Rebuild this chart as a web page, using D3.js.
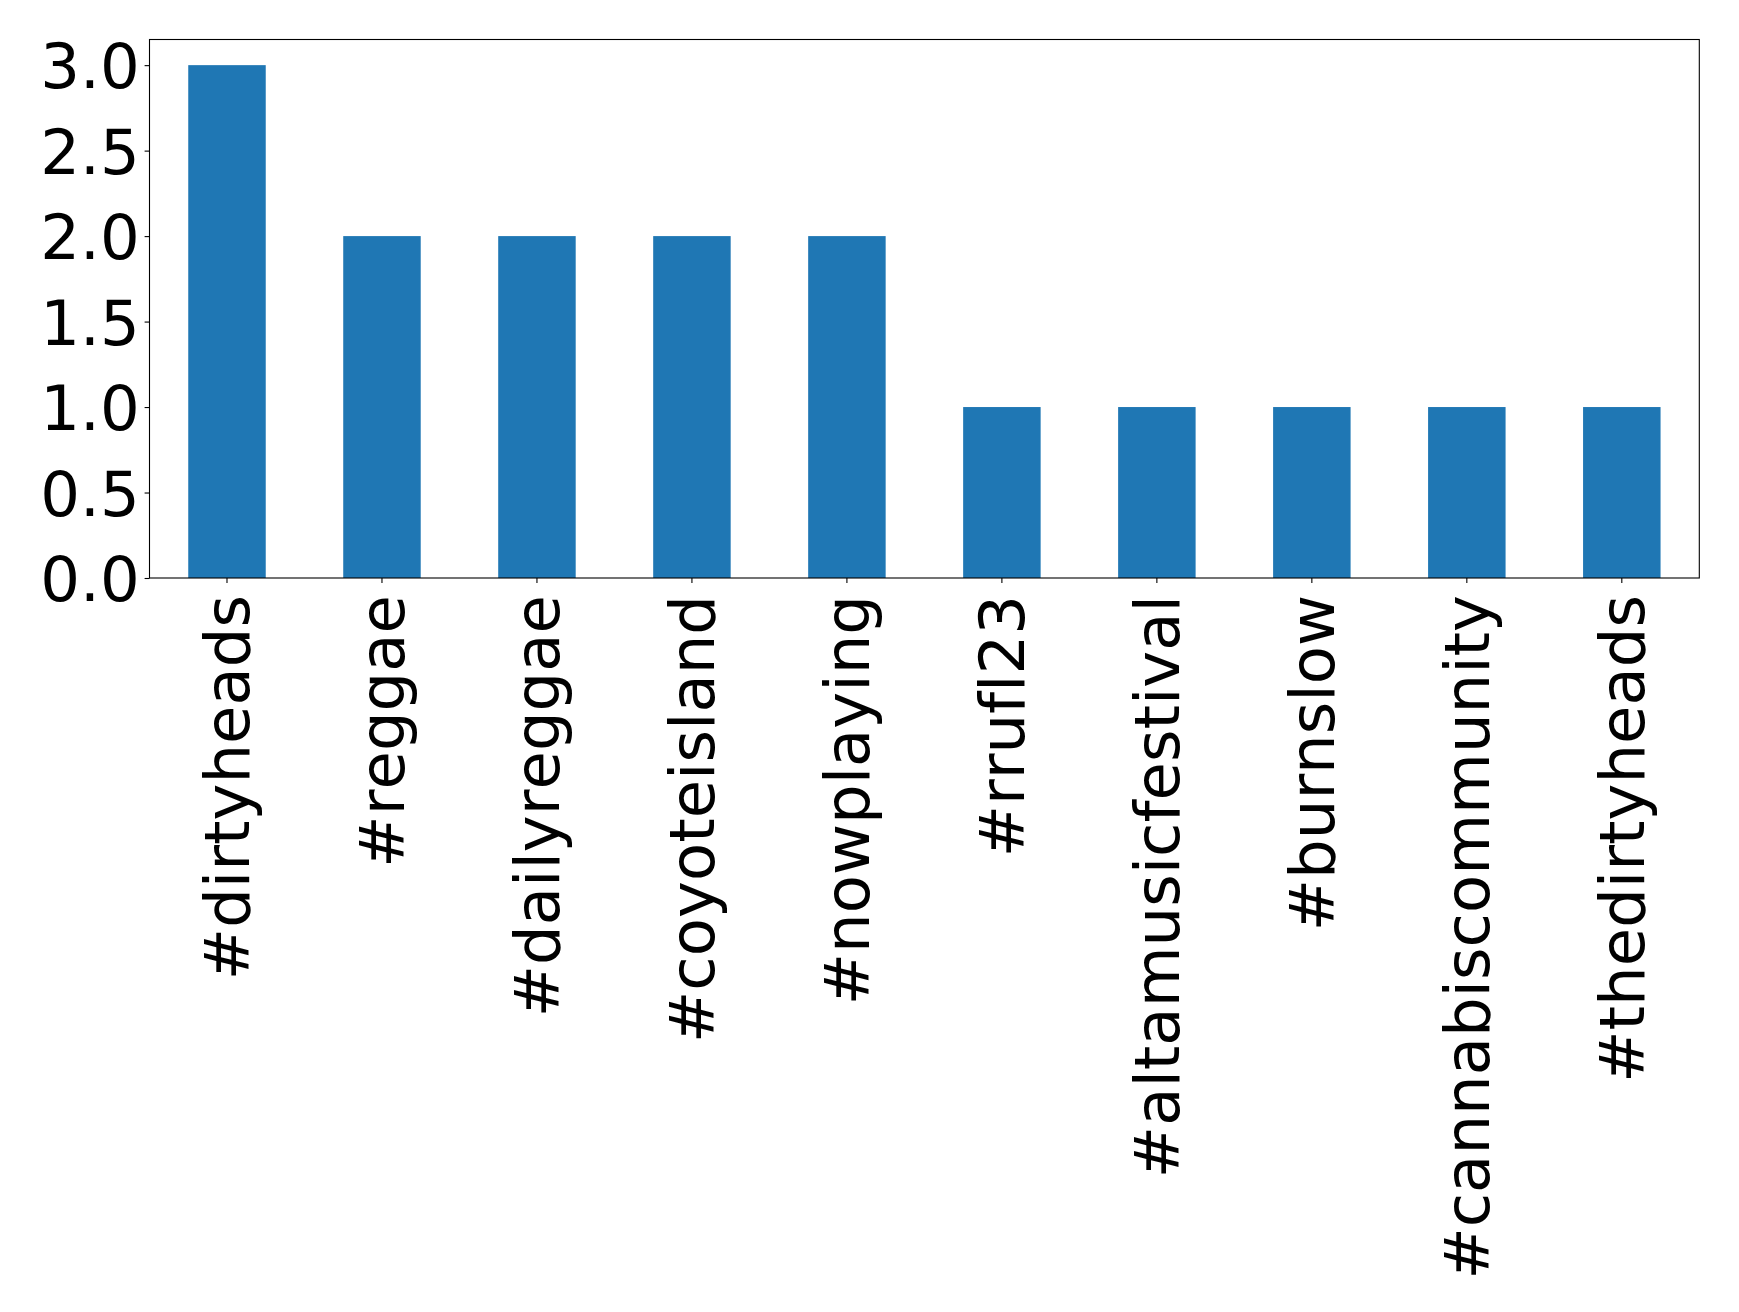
<!DOCTYPE html>
<html>
<head>
<meta charset="utf-8">
<script src="https://cdn.jsdelivr.net/npm/d3@7"></script>
<style>
  html, body { margin: 0; padding: 0; background: #fff; }
  svg { display: block; }
  text { font-variant-ligatures: none; font-kerning: none; }
</style>
</head>
<body>
<svg id="chart" width="1739" height="1312"></svg>
<script>
const categories = ["#dirtyheads", "#reggae", "#dailyreggae", "#coyoteisland", "#nowplaying",
  "#rrufl23", "#altamusicfestival", "#burnslow", "#cannabiscommunity", "#thedirtyheads"];
const counts = [3, 2, 2, 2, 2, 1, 1, 1, 1, 1];
const yTicks = [0, 0.5, 1.0, 1.5, 2.0, 2.5, 3.0];

const W = 1739, H = 1312;
const margin = { left: 149.5, top: 39.5, right: W - 1699.3, bottom: H - 578 };
const fontSize = 62.5;
const font = "'DejaVu Sans', sans-serif";

const svg = d3.select("#chart");
const g = svg.append("g");

const x = d3.scaleBand()
  .domain(categories)
  .range([margin.left, W - margin.right])
  .paddingInner(0.5)
  .paddingOuter(0.25);

const y = d3.scaleLinear()
  .domain([0, 3.15])
  .range([H - margin.bottom, margin.top]);

// bars
g.selectAll("rect.bar")
  .data(categories.map((c, i) => ({ c, v: counts[i] })))
  .join("rect")
  .attr("class", "bar")
  .attr("x", d => x(d.c))
  .attr("y", d => y(d.v))
  .attr("width", x.bandwidth())
  .attr("height", d => y(0) - y(d.v))
  .attr("fill", "#1f77b4");

// y axis
const yAxis = d3.axisLeft(y)
  .tickValues(yTicks)
  .tickFormat(d3.format(".1f"))
  .tickSize(4.9)
  .tickPadding(4.9);
const yg = g.append("g")
  .attr("transform", `translate(${margin.left},0)`)
  .call(yAxis);
yg.select(".domain").remove();
yg.selectAll(".tick line").attr("stroke", "#000").attr("stroke-width", 1.1);
yg.selectAll(".tick text")
  .attr("font-family", font)
  .attr("font-size", fontSize)
  .attr("fill", "#000")
  .attr("dy", "0.36em");

// x axis
const xAxis = d3.axisBottom(x).tickSize(4.9).tickPadding(0);
const xg = g.append("g")
  .attr("transform", `translate(0,${H - margin.bottom})`)
  .call(xAxis);
xg.select(".domain").remove();
xg.selectAll(".tick line").attr("stroke", "#000").attr("stroke-width", 1.1);
xg.selectAll(".tick text")
  .attr("font-family", font)
  .attr("font-size", fontSize)
  .attr("fill", "#000")
  .attr("text-anchor", "end")
  .attr("transform", "translate(0,17) rotate(-90)")
  .attr("x", 0)
  .attr("y", 0)
  .attr("dy", "0.36em");

// frame
g.append("rect")
  .attr("x", margin.left)
  .attr("y", margin.top)
  .attr("width", W - margin.right - margin.left)
  .attr("height", H - margin.bottom - margin.top)
  .attr("fill", "none")
  .attr("stroke", "#000")
  .attr("stroke-width", 1.1);
</script>
</body>
</html>
